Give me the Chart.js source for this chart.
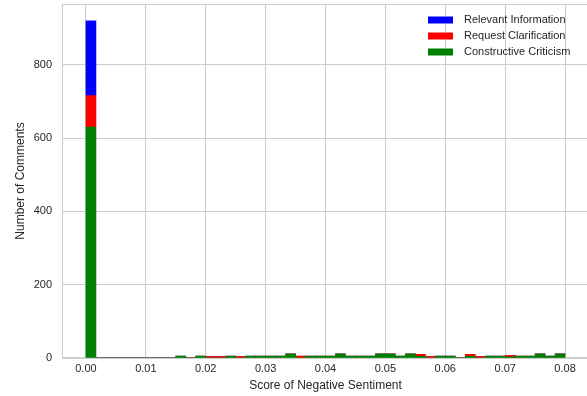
<!DOCTYPE html>
<html>
<head>
<meta charset="utf-8">
<script src="https://cdn.jsdelivr.net/npm/chart.js@4.4.0/dist/chart.umd.min.js"></script>
<style>
  html, body { margin: 0; padding: 0; background: #ffffff; overflow: hidden; }
  #wrap { width: 600px; height: 396px; }
</style>
</head>
<body>
<div id="wrap"><canvas id="hist" width="600" height="396"></canvas></div>
<script>
// Histogram bins of the negative-sentiment score
const binStart = 0;
const binEnd = 0.08;
const binCount = 48;

// Comment counts per bin, one list per comment category
const relevantInformation = [
  204, 0, 0, 0, 0, 0, 0, 0, 0, 0, 0, 0,
  0, 0, 0, 0, 0, 0, 0, 0, 0, 0, 0, 0,
  0, 0, 0, 0, 0, 0, 0, 0, 0, 0, 0, 0,
  0, 0, 0, 0, 0, 0, 0, 0, 0, 0, 0, 0
];
const requestClarification = [
  86, 0, 0, 0, 0, 0, 0, 0, 0, 0, 0, 0,
  4, 4, 0, 4, 0, 0, 0, 0, 0, 5, 0, 0,
  0, 0, 0, 0, 0, 0, 0, 0, 0, 5, 4, 0,
  0, 0, 5, 4, 0, 0, 4, 0, 0, 0, 0, 0
];
const constructiveCriticism = [
  630, 0, 0, 0, 0, 0, 0, 0, 0, 5, 0, 5,
  0, 0, 5, 0, 5, 5, 5, 5, 11, 0, 5, 5,
  5, 11, 5, 5, 5, 11, 11, 5, 11, 5, 0, 5,
  5, 0, 5, 0, 5, 5, 3, 5, 5, 11, 5, 11
];

// Axis tick labels
const xTickValues = [0, 0.01, 0.02, 0.03, 0.04, 0.05, 0.06, 0.07, 0.08];
const yTickValues = [0, 200, 400, 600, 800];

const binWidth = (binEnd - binStart) / binCount;
const binCenters = constructiveCriticism.map((_, i) => binStart + (i + 0.5) * binWidth);
const toPoints = counts => counts.map((v, i) => ({ x: binCenters[i], y: v }));

const textColor = '#262626';
const gridColor = '#cccccc';
const fontFamily = '"Liberation Sans", Arial, Helvetica, sans-serif';

// Light frame around the plotting area
const framePlugin = {
  id: 'frame',
  beforeDatasetsDraw(chart) {
    const { ctx, chartArea: a } = chart;
    ctx.save();
    ctx.strokeStyle = gridColor;
    ctx.lineWidth = 1;
    ctx.strokeRect(a.left + 0.5, a.top + 0.5, a.right - a.left - 1, a.bottom - a.top - 1);
    ctx.restore();
  }
};

// Legend drawn inside the upper right corner of the plot, one entry per row
const insideLegend = {
  id: 'insideLegend',
  afterDatasetsDraw(chart) {
    const { ctx, chartArea: a } = chart;
    const items = chart.data.datasets.slice().reverse();
    ctx.save();
    ctx.font = '11px ' + fontFamily;
    ctx.textBaseline = 'middle';
    ctx.textAlign = 'left';
    items.forEach((ds, i) => {
      const cy = a.top + 16 + i * 16;
      ctx.fillStyle = ds.backgroundColor;
      ctx.fillRect(a.right - 161, cy - 3.5, 25, 7);
      ctx.fillStyle = textColor;
      ctx.fillText(ds.label, a.right - 125, cy);
    });
    ctx.restore();
  }
};

new Chart(document.getElementById('hist'), {
  type: 'bar',
  data: {
    datasets: [
      { label: 'Constructive Criticism', data: toPoints(constructiveCriticism), backgroundColor: '#008000' },
      { label: 'Request Clarification', data: toPoints(requestClarification), backgroundColor: '#ff0000' },
      { label: 'Relevant Information', data: toPoints(relevantInformation), backgroundColor: '#0000ff' }
    ]
  },
  options: {
    responsive: false,
    animation: false,
    devicePixelRatio: 1,
    layout: { padding: { top: 4, right: 11, left: 0, bottom: 0 } },
    datasets: { bar: { categoryPercentage: 1, barPercentage: 1, borderWidth: 0 } },
    plugins: { legend: { display: false }, tooltip: { enabled: false } },
    scales: {
      x: {
        type: 'linear',
        stacked: true,
        offset: false,
        min: -0.004,
        max: 0.084,
        afterBuildTicks: s => { s.ticks = xTickValues.map(v => ({ value: v })); },
        afterFit: s => { s.height = 38; },
        ticks: {
          autoSkip: false, maxRotation: 0, padding: 4,
          color: textColor, font: { family: fontFamily, size: 11 },
          callback: v => Number(v).toFixed(2)
        },
        grid: { color: gridColor, drawTicks: false, offset: false },
        border: { display: false },
        title: {
          display: true, text: 'Score of Negative Sentiment',
          color: textColor, font: { family: fontFamily, size: 12 },
          padding: { top: 0, bottom: 3 }
        }
      },
      y: {
        stacked: true,
        min: 0,
        max: 966,
        afterBuildTicks: s => { s.ticks = yTickValues.map(v => ({ value: v })); },
        afterFit: s => { s.width = 62; s.paddingTop = 0; s.paddingBottom = 0; },
        ticks: { padding: 10, color: textColor, font: { family: fontFamily, size: 11 } },
        grid: { color: gridColor, drawTicks: false },
        border: { display: false },
        title: {
          display: true, text: 'Number of Comments',
          color: textColor, font: { family: fontFamily, size: 12 },
          padding: { top: 13, bottom: 0 }
        }
      }
    }
  },
  plugins: [framePlugin, insideLegend]
});
</script>
</body>
</html>
